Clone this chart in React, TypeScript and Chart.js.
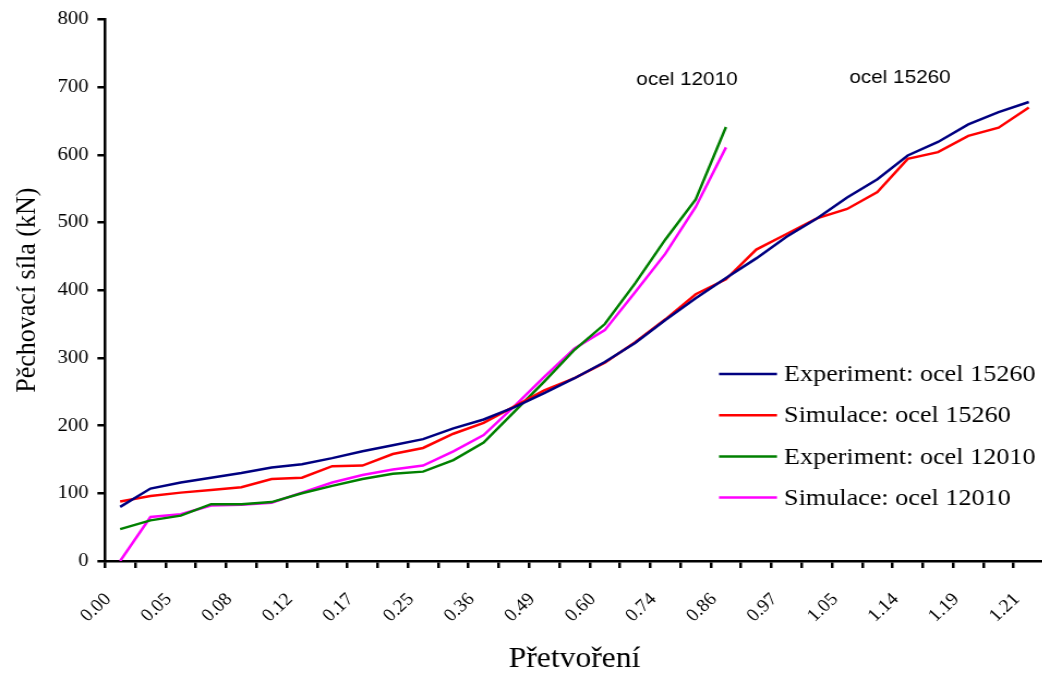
import React, { useEffect, useRef } from "react";
import { Chart, registerables } from "chart.js";

Chart.register(...registerables);

// Tick labels shown on every other category (strain values)
const strainTicks = ["0.00", "0.05", "0.08", "0.12", "0.17", "0.25", "0.36", "0.49", "0.60", "0.74", "0.86", "0.97", "1.05", "1.14", "1.19", "1.21"];

// Upsetting force (kN)
const experiment15260 = [80, 107, 116, 123, 130, 138, 143, 152, 162, 171, 180, 196, 209, 227, 248, 270, 294, 322, 356, 388, 418, 447, 479, 506, 537, 564, 599, 619, 645, 663, 678];
const simulation15260 = [88, 96, 101, 105, 109, 121, 123, 140, 141, 158, 167, 188, 204, 228, 252, 270, 293, 323, 357, 394, 416, 460, 483, 506, 520, 545, 594, 604, 628, 640, 670];
const experiment12010 = [47, 60, 67, 84, 84, 87, 100, 111, 121, 129, 132, 149, 175, 220, 265, 312, 350, 410, 475, 534, 641];
const simulation12010 = [0, 65, 69, 82, 83, 86, 101, 116, 127, 135, 141, 162, 186, 228, 272, 314, 341, 397, 454, 523, 611];

const seriesLabels = ["Experiment: ocel 15260", "Simulace: ocel 15260", "Experiment: ocel 12010", "Simulace: ocel 12010"];
const seriesColors = ["#000080", "#FF0000", "#008000", "#FF00FF"];
const annotationTexts = ["ocel 12010", "ocel 15260"];

const yTitle = "Pěchovací síla (kN)";
const xTitle = "Přetvoření";

const SERIF = "'Liberation Serif', 'Times New Roman', serif";
const SANS = "'Liberation Sans', Arial, sans-serif";

// the original picture is slightly stretched horizontally
const CSS_W = 1050;
const CSS_H = 675;
const STRETCH = 1.09;
const W = Math.round(CSS_W / STRETCH);
const sx = (v: number) => v / (CSS_W / W);

export default function App() {
  const canvasRef = useRef<HTMLCanvasElement | null>(null);

  useEffect(() => {
    if (!canvasRef.current) return;
    const categories = Array.from({ length: strainTicks.length * 2 - 1 }, (_, i) =>
      i % 2 === 0 ? strainTicks[i / 2] : ""
    );
    const seriesData = [experiment15260, simulation15260, experiment12010, simulation12010];

    const overlay = {
      id: "overlay",
      afterDraw(chart: any) {
        const ctx = chart.ctx as CanvasRenderingContext2D;
        ctx.save();
        chart.data.datasets.forEach((ds: any, i: number) => {
          const y = 374 + i * 41.2;
          ctx.strokeStyle = ds.borderColor;
          ctx.lineWidth = 2.5;
          ctx.beginPath();
          ctx.moveTo(sx(719), y);
          ctx.lineTo(sx(777), y);
          ctx.stroke();
          ctx.fillStyle = "#000";
          ctx.font = `24px ${SERIF}`;
          ctx.textAlign = "left";
          ctx.textBaseline = "middle";
          ctx.fillText(ds.label, sx(784), y + 1);
        });
        ctx.font = `19px ${SANS}`;
        ctx.textAlign = "center";
        ctx.textBaseline = "middle";
        ctx.fillText(annotationTexts[0], sx(687), 80);
        ctx.fillText(annotationTexts[1], sx(900), 78);
        ctx.restore();
      },
    };

    const chart = new Chart(canvasRef.current, {
      type: "line",
      data: {
        labels: categories,
        datasets: seriesData.map((d, i) => ({
          label: seriesLabels[i],
          data: d,
          borderColor: seriesColors[i],
          backgroundColor: seriesColors[i],
          borderWidth: 2.5,
          pointRadius: 0,
          tension: 0,
          fill: false,
        })),
      },
      options: {
        responsive: false,
        animation: false,
        devicePixelRatio: 1,
        layout: { padding: { top: 19, right: sx(6), left: 0, bottom: 0 } },
        plugins: {
          legend: { display: false },
          tooltip: { enabled: false },
        },
        scales: {
          x: {
            type: "category",
            offset: true,
            afterFit: (s: any) => {
              s.height = 114;
              s.paddingLeft = 0;
              s.paddingRight = 0;
            },
            border: { display: true, color: "#000", width: 2.5 },
            grid: {
              offset: true,
              drawOnChartArea: false,
              drawTicks: true,
              tickLength: 7,
              color: "#000",
              lineWidth: 2.5,
            },
            ticks: {
              autoSkip: false,
              maxRotation: 45,
              minRotation: 45,
              color: "#000",
              padding: 21,
              labelOffset: -11,
              font: { family: SERIF, size: 18 },
            },
            title: {
              display: true,
              text: xTitle,
              color: "#000",
              font: { family: SERIF, size: 29, lineHeight: 1 },
              padding: { top: 0, bottom: 1 },
            },
          },
          y: {
            min: 0,
            max: 800,
            afterFit: (s: any) => {
              s.width = sx(105);
            },
            border: { display: true, color: "#000", width: 2.5 },
            grid: {
              drawOnChartArea: false,
              drawTicks: true,
              tickLength: 7,
              color: "#000",
              lineWidth: 2.5,
            },
            ticks: {
              stepSize: 100,
              color: "#000",
              padding: 8,
              font: { family: SERIF, size: 19 },
            },
            title: {
              display: true,
              text: yTitle,
              color: "#000",
              font: { family: SERIF, size: 26, lineHeight: 1 },
              padding: { top: 12, bottom: 0 },
            },
          },
        },
      },
      plugins: [overlay],
    });
    return () => chart.destroy();
  }, []);

  return (
    <div
      style={{
        position: "fixed",
        left: 0,
        top: 0,
        width: 1042,
        height: 675,
        overflow: "hidden",
        background: "#fff",
      }}
    >
      <canvas
        ref={canvasRef}
        width={W}
        height={CSS_H}
        style={{ display: "block", width: CSS_W, height: CSS_H }}
      />
    </div>
  );
}
